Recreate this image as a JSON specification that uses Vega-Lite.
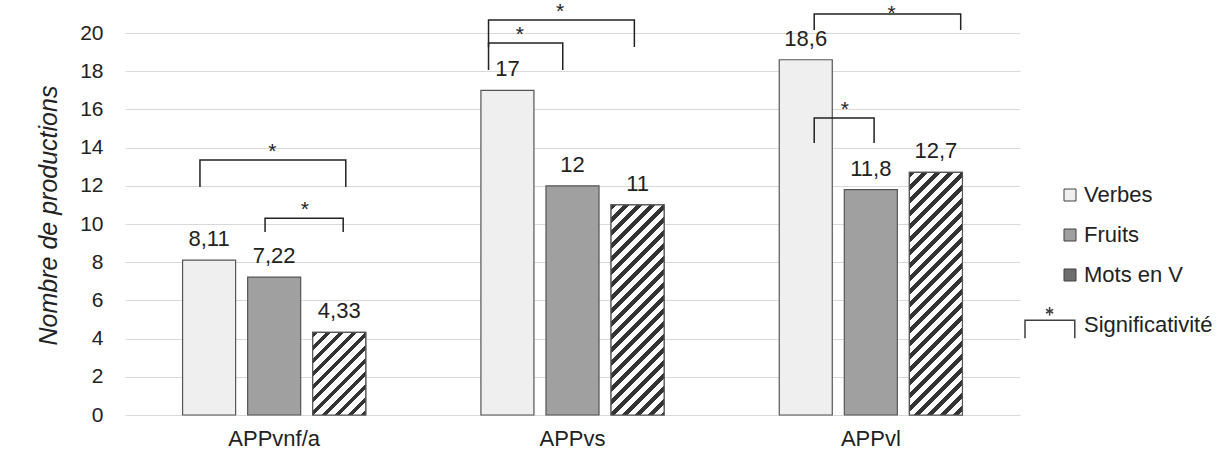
{
  "$schema": "https://vega.github.io/schema/vega-lite/v6.json",
  "width": 895,
  "height": 382,
  "autosize": {"type": "none"},
  "padding": {"left": 125, "top": 33, "right": 197, "bottom": 60},
  "background": "white",
  "config": {
    "font": "Liberation Sans",
    "view": {"stroke": null},
    "locale": {"number": {"decimal": ",", "thousands": " ", "grouping": [3], "currency": ["", " €"]}}
  },
  "datasets": {
    "barres": [
      {"groupe": "APPvnf/a", "serie": "Verbes", "valeur": 8.11},
      {"groupe": "APPvnf/a", "serie": "Fruits", "valeur": 7.22},
      {"groupe": "APPvnf/a", "serie": "Mots en V", "valeur": 4.33},
      {"groupe": "APPvs", "serie": "Verbes", "valeur": 17},
      {"groupe": "APPvs", "serie": "Fruits", "valeur": 12},
      {"groupe": "APPvs", "serie": "Mots en V", "valeur": 11},
      {"groupe": "APPvl", "serie": "Verbes", "valeur": 18.6},
      {"groupe": "APPvl", "serie": "Fruits", "valeur": 11.8},
      {"groupe": "APPvl", "serie": "Mots en V", "valeur": 12.7}
    ],
    "crochets": [
      {"crochet": "b1", "groupe": "APPvnf/a", "rang": -0.14, "niveau": 11.94, "ordre": 1},
      {"crochet": "b1", "groupe": "APPvnf/a", "rang": -0.14, "niveau": 13.35, "ordre": 2},
      {"crochet": "b1", "groupe": "APPvnf/a", "rang": 2.10, "niveau": 13.35, "ordre": 3},
      {"crochet": "b1", "groupe": "APPvnf/a", "rang": 2.10, "niveau": 11.94, "ordre": 4},
      {"crochet": "b2", "groupe": "APPvnf/a", "rang": 0.86, "niveau": 9.58, "ordre": 1},
      {"crochet": "b2", "groupe": "APPvnf/a", "rang": 0.86, "niveau": 10.3, "ordre": 2},
      {"crochet": "b2", "groupe": "APPvnf/a", "rang": 2.06, "niveau": 10.3, "ordre": 3},
      {"crochet": "b2", "groupe": "APPvnf/a", "rang": 2.06, "niveau": 9.58, "ordre": 4},
      {"crochet": "b3", "groupe": "APPvs", "rang": -0.29, "niveau": 19.27, "ordre": 1},
      {"crochet": "b3", "groupe": "APPvs", "rang": -0.29, "niveau": 20.68, "ordre": 2},
      {"crochet": "b3", "groupe": "APPvs", "rang": 1.95, "niveau": 20.68, "ordre": 3},
      {"crochet": "b3", "groupe": "APPvs", "rang": 1.95, "niveau": 19.27, "ordre": 4},
      {"crochet": "b4", "groupe": "APPvs", "rang": -0.29, "niveau": 18.06, "ordre": 1},
      {"crochet": "b4", "groupe": "APPvs", "rang": -0.29, "niveau": 19.48, "ordre": 2},
      {"crochet": "b4", "groupe": "APPvs", "rang": 0.85, "niveau": 19.48, "ordre": 3},
      {"crochet": "b4", "groupe": "APPvs", "rang": 0.85, "niveau": 18.06, "ordre": 4},
      {"crochet": "b5", "groupe": "APPvl", "rang": 0.13, "niveau": 20.16, "ordre": 1},
      {"crochet": "b5", "groupe": "APPvl", "rang": 0.13, "niveau": 21.0, "ordre": 2},
      {"crochet": "b5", "groupe": "APPvl", "rang": 2.38, "niveau": 21.0, "ordre": 3},
      {"crochet": "b5", "groupe": "APPvl", "rang": 2.38, "niveau": 20.16, "ordre": 4},
      {"crochet": "b6", "groupe": "APPvl", "rang": 0.13, "niveau": 14.24, "ordre": 1},
      {"crochet": "b6", "groupe": "APPvl", "rang": 0.13, "niveau": 15.55, "ordre": 2},
      {"crochet": "b6", "groupe": "APPvl", "rang": 1.05, "niveau": 15.55, "ordre": 3},
      {"crochet": "b6", "groupe": "APPvl", "rang": 1.05, "niveau": 14.24, "ordre": 4}
    ],
    "etoiles": [
      {"groupe": "APPvnf/a", "rang": 0.97, "niveau": 13.35},
      {"groupe": "APPvnf/a", "rang": 1.47, "niveau": 10.3},
      {"groupe": "APPvs", "rang": 0.81, "niveau": 20.68},
      {"groupe": "APPvs", "rang": 0.19, "niveau": 19.48},
      {"groupe": "APPvl", "rang": 1.32, "niveau": 20.6},
      {"groupe": "APPvl", "rang": 0.6, "niveau": 15.55}
    ]
  },
  "layer": [
    {
      "data": {"name": "barres"},
      "mark": {"type": "bar", "stroke": "#555555", "strokeWidth": 1.2},
      "encoding": {
        "x": {"field": "groupe", "type": "nominal", "scale": {"domain": ["APPvnf/a", "APPvs", "APPvl"], "paddingInner": 0.386, "paddingOuter": 0.193},
          "axis": {"title": null, "domain": false, "ticks": false, "grid": false, "labelFontSize": 22, "labelColor": "#222222", "labelPadding": 13, "labelAngle": 0}},
        "xOffset": {"field": "serie", "type": "nominal", "scale": {"domain": ["Verbes", "Fruits", "Mots en V"], "paddingInner": 0.185, "paddingOuter": 0}},
        "y": {"field": "valeur", "type": "quantitative", "scale": {"domain": [0, 20], "nice": false},
          "axis": {"title": "Nombre de productions", "values": [0, 2, 4, 6, 8, 10, 12, 14, 16, 18, 20], "tickCount": 11, "labelOverlap": false, "labelBound": false, "labelFlush": false, "domain": false, "ticks": false, "grid": true, "gridColor": "#d9d9d9", "gridWidth": 1, "labelFontSize": 21, "labelColor": "#222222", "labelPadding": 22, "titleFontSize": 25, "titleFontStyle": "italic", "titleFontWeight": "normal", "titleColor": "#222222", "titleX": -77, "titleY": 182, "titleAngle": -90, "titleAlign": "center", "titleBaseline": "middle"}},
        "color": {"field": "serie", "type": "nominal",
          "scale": {"domain": ["Verbes", "Fruits", "Mots en V", "Significativité"], "range": ["#efefef", "#a0a0a0", "#6e6e6e", "transparent"]},
          "legend": {"title": null, "orient": "none", "legendX": 934, "legendY": 151, "padding": 0, "symbolSize": 144, "symbolType": "square", "symbolStrokeWidth": 1, "symbolStrokeColor": "#404040", "labelFontSize": 22, "labelColor": "#222222", "labelOffset": 3, "rowPadding": 18,
            "encode": {"symbols": {"update": {"shape": {"signal": "datum.value === 'Significativité' ? 'M-7.5,2.2L-7.5,-0.8L0.8,-0.8L0.8,2.2M-3.4,-3L-3.4,-1.6M-4,-2.6L-2.8,-2M-4,-2L-2.8,-2.6' : 'square'"}, "strokeWidth": {"signal": "datum.value === 'Significativité' ? 1.5 : 1"}}}}}}
      }
    },
    {
      "data": {"name": "barres"},
      "transform": [{"filter": "datum.serie === 'Mots en V' && datum.groupe === 'APPvnf/a'"}],
      "mark": {"type": "bar", "stroke": "#555555", "strokeWidth": 1.2,
        "fill": {"gradient": "linear", "x1": 0, "y1": 0, "x2": 0.7459, "y2": 1.163, "stops": [
          {"offset": 0, "color": "#333"}, {"offset": 0.0405, "color": "#333"}, {"offset": 0.0405, "color": "#fff"},
          {"offset": 0.0958, "color": "#fff"}, {"offset": 0.0958, "color": "#333"}, {"offset": 0.1363, "color": "#333"}, {"offset": 0.1363, "color": "#fff"},
          {"offset": 0.1915, "color": "#fff"}, {"offset": 0.1915, "color": "#333"}, {"offset": 0.2320, "color": "#333"}, {"offset": 0.2320, "color": "#fff"},
          {"offset": 0.2873, "color": "#fff"}, {"offset": 0.2873, "color": "#333"}, {"offset": 0.3278, "color": "#333"}, {"offset": 0.3278, "color": "#fff"},
          {"offset": 0.3831, "color": "#fff"}, {"offset": 0.3831, "color": "#333"}, {"offset": 0.4236, "color": "#333"}, {"offset": 0.4236, "color": "#fff"},
          {"offset": 0.4789, "color": "#fff"}, {"offset": 0.4789, "color": "#333"}, {"offset": 0.5194, "color": "#333"}, {"offset": 0.5194, "color": "#fff"},
          {"offset": 0.5746, "color": "#fff"}, {"offset": 0.5746, "color": "#333"}, {"offset": 0.6151, "color": "#333"}, {"offset": 0.6151, "color": "#fff"},
          {"offset": 0.6704, "color": "#fff"}, {"offset": 0.6704, "color": "#333"}, {"offset": 0.7109, "color": "#333"}, {"offset": 0.7109, "color": "#fff"},
          {"offset": 0.7662, "color": "#fff"}, {"offset": 0.7662, "color": "#333"}, {"offset": 0.8067, "color": "#333"}, {"offset": 0.8067, "color": "#fff"},
          {"offset": 0.8619, "color": "#fff"}, {"offset": 0.8619, "color": "#333"}, {"offset": 0.9024, "color": "#333"}, {"offset": 0.9024, "color": "#fff"},
          {"offset": 0.9577, "color": "#fff"}, {"offset": 0.9577, "color": "#333"}, {"offset": 0.9982, "color": "#333"}, {"offset": 0.9982, "color": "#fff"}
        ]}},
      "encoding": {
        "x": {"field": "groupe", "type": "nominal"},
        "xOffset": {"field": "serie", "type": "nominal", "scale": {"domain": ["Verbes", "Fruits", "Mots en V"], "paddingInner": 0.185, "paddingOuter": 0}},
        "y": {"field": "valeur", "type": "quantitative", "scale": {"domain": [0, 20], "nice": false}}
      }
    },
    {
      "data": {"name": "barres"},
      "transform": [{"filter": "datum.serie === 'Mots en V' && datum.groupe === 'APPvs'"}],
      "mark": {"type": "bar", "stroke": "#555555", "strokeWidth": 1.2,
        "fill": {"gradient": "linear", "x1": 0, "y1": 0, "x2": 0.2972, "y2": 1.1774, "stops": [
          {"offset": 0, "color": "#333"}, {"offset": 0.0209, "color": "#333"}, {"offset": 0.0209, "color": "#fff"},
          {"offset": 0.0494, "color": "#fff"}, {"offset": 0.0494, "color": "#333"}, {"offset": 0.0703, "color": "#333"}, {"offset": 0.0703, "color": "#fff"},
          {"offset": 0.0988, "color": "#fff"}, {"offset": 0.0988, "color": "#333"}, {"offset": 0.1197, "color": "#333"}, {"offset": 0.1197, "color": "#fff"},
          {"offset": 0.1482, "color": "#fff"}, {"offset": 0.1482, "color": "#333"}, {"offset": 0.1691, "color": "#333"}, {"offset": 0.1691, "color": "#fff"},
          {"offset": 0.1976, "color": "#fff"}, {"offset": 0.1976, "color": "#333"}, {"offset": 0.2185, "color": "#333"}, {"offset": 0.2185, "color": "#fff"},
          {"offset": 0.2470, "color": "#fff"}, {"offset": 0.2470, "color": "#333"}, {"offset": 0.2679, "color": "#333"}, {"offset": 0.2679, "color": "#fff"},
          {"offset": 0.2964, "color": "#fff"}, {"offset": 0.2964, "color": "#333"}, {"offset": 0.3173, "color": "#333"}, {"offset": 0.3173, "color": "#fff"},
          {"offset": 0.3458, "color": "#fff"}, {"offset": 0.3458, "color": "#333"}, {"offset": 0.3667, "color": "#333"}, {"offset": 0.3667, "color": "#fff"},
          {"offset": 0.3952, "color": "#fff"}, {"offset": 0.3952, "color": "#333"}, {"offset": 0.4161, "color": "#333"}, {"offset": 0.4161, "color": "#fff"},
          {"offset": 0.4446, "color": "#fff"}, {"offset": 0.4446, "color": "#333"}, {"offset": 0.4655, "color": "#333"}, {"offset": 0.4655, "color": "#fff"},
          {"offset": 0.4940, "color": "#fff"}, {"offset": 0.4940, "color": "#333"}, {"offset": 0.5149, "color": "#333"}, {"offset": 0.5149, "color": "#fff"},
          {"offset": 0.5434, "color": "#fff"}, {"offset": 0.5434, "color": "#333"}, {"offset": 0.5643, "color": "#333"}, {"offset": 0.5643, "color": "#fff"},
          {"offset": 0.5928, "color": "#fff"}, {"offset": 0.5928, "color": "#333"}, {"offset": 0.6137, "color": "#333"}, {"offset": 0.6137, "color": "#fff"},
          {"offset": 0.6422, "color": "#fff"}, {"offset": 0.6422, "color": "#333"}, {"offset": 0.6631, "color": "#333"}, {"offset": 0.6631, "color": "#fff"},
          {"offset": 0.6916, "color": "#fff"}, {"offset": 0.6916, "color": "#333"}, {"offset": 0.7125, "color": "#333"}, {"offset": 0.7125, "color": "#fff"},
          {"offset": 0.7410, "color": "#fff"}, {"offset": 0.7410, "color": "#333"}, {"offset": 0.7619, "color": "#333"}, {"offset": 0.7619, "color": "#fff"},
          {"offset": 0.7904, "color": "#fff"}, {"offset": 0.7904, "color": "#333"}, {"offset": 0.8113, "color": "#333"}, {"offset": 0.8113, "color": "#fff"},
          {"offset": 0.8399, "color": "#fff"}, {"offset": 0.8399, "color": "#333"}, {"offset": 0.8608, "color": "#333"}, {"offset": 0.8608, "color": "#fff"},
          {"offset": 0.8893, "color": "#fff"}, {"offset": 0.8893, "color": "#333"}, {"offset": 0.9102, "color": "#333"}, {"offset": 0.9102, "color": "#fff"},
          {"offset": 0.9387, "color": "#fff"}, {"offset": 0.9387, "color": "#333"}, {"offset": 0.9596, "color": "#333"}, {"offset": 0.9596, "color": "#fff"},
          {"offset": 0.9881, "color": "#fff"}, {"offset": 0.9881, "color": "#333"}, {"offset": 1, "color": "#333"}
        ]}},
      "encoding": {
        "x": {"field": "groupe", "type": "nominal"},
        "xOffset": {"field": "serie", "type": "nominal", "scale": {"domain": ["Verbes", "Fruits", "Mots en V"], "paddingInner": 0.185, "paddingOuter": 0}},
        "y": {"field": "valeur", "type": "quantitative", "scale": {"domain": [0, 20], "nice": false}}
      }
    },
    {
      "data": {"name": "barres"},
      "transform": [{"filter": "datum.serie === 'Mots en V' && datum.groupe === 'APPvl'"}],
      "mark": {"type": "bar", "stroke": "#555555", "strokeWidth": 1.2,
        "fill": {"gradient": "linear", "x1": 0, "y1": 0, "x2": 0.2543, "y2": 1.1631, "stops": [
          {"offset": 0, "color": "#333"}, {"offset": 0.0186, "color": "#333"}, {"offset": 0.0186, "color": "#fff"},
          {"offset": 0.0440, "color": "#fff"}, {"offset": 0.0440, "color": "#333"}, {"offset": 0.0626, "color": "#333"}, {"offset": 0.0626, "color": "#fff"},
          {"offset": 0.0880, "color": "#fff"}, {"offset": 0.0880, "color": "#333"}, {"offset": 0.1066, "color": "#333"}, {"offset": 0.1066, "color": "#fff"},
          {"offset": 0.1319, "color": "#fff"}, {"offset": 0.1319, "color": "#333"}, {"offset": 0.1505, "color": "#333"}, {"offset": 0.1505, "color": "#fff"},
          {"offset": 0.1759, "color": "#fff"}, {"offset": 0.1759, "color": "#333"}, {"offset": 0.1945, "color": "#333"}, {"offset": 0.1945, "color": "#fff"},
          {"offset": 0.2199, "color": "#fff"}, {"offset": 0.2199, "color": "#333"}, {"offset": 0.2385, "color": "#333"}, {"offset": 0.2385, "color": "#fff"},
          {"offset": 0.2639, "color": "#fff"}, {"offset": 0.2639, "color": "#333"}, {"offset": 0.2825, "color": "#333"}, {"offset": 0.2825, "color": "#fff"},
          {"offset": 0.3078, "color": "#fff"}, {"offset": 0.3078, "color": "#333"}, {"offset": 0.3264, "color": "#333"}, {"offset": 0.3264, "color": "#fff"},
          {"offset": 0.3518, "color": "#fff"}, {"offset": 0.3518, "color": "#333"}, {"offset": 0.3704, "color": "#333"}, {"offset": 0.3704, "color": "#fff"},
          {"offset": 0.3958, "color": "#fff"}, {"offset": 0.3958, "color": "#333"}, {"offset": 0.4144, "color": "#333"}, {"offset": 0.4144, "color": "#fff"},
          {"offset": 0.4398, "color": "#fff"}, {"offset": 0.4398, "color": "#333"}, {"offset": 0.4584, "color": "#333"}, {"offset": 0.4584, "color": "#fff"},
          {"offset": 0.4837, "color": "#fff"}, {"offset": 0.4837, "color": "#333"}, {"offset": 0.5023, "color": "#333"}, {"offset": 0.5023, "color": "#fff"},
          {"offset": 0.5277, "color": "#fff"}, {"offset": 0.5277, "color": "#333"}, {"offset": 0.5463, "color": "#333"}, {"offset": 0.5463, "color": "#fff"},
          {"offset": 0.5717, "color": "#fff"}, {"offset": 0.5717, "color": "#333"}, {"offset": 0.5903, "color": "#333"}, {"offset": 0.5903, "color": "#fff"},
          {"offset": 0.6157, "color": "#fff"}, {"offset": 0.6157, "color": "#333"}, {"offset": 0.6343, "color": "#333"}, {"offset": 0.6343, "color": "#fff"},
          {"offset": 0.6597, "color": "#fff"}, {"offset": 0.6597, "color": "#333"}, {"offset": 0.6783, "color": "#333"}, {"offset": 0.6783, "color": "#fff"},
          {"offset": 0.7036, "color": "#fff"}, {"offset": 0.7036, "color": "#333"}, {"offset": 0.7222, "color": "#333"}, {"offset": 0.7222, "color": "#fff"},
          {"offset": 0.7476, "color": "#fff"}, {"offset": 0.7476, "color": "#333"}, {"offset": 0.7662, "color": "#333"}, {"offset": 0.7662, "color": "#fff"},
          {"offset": 0.7916, "color": "#fff"}, {"offset": 0.7916, "color": "#333"}, {"offset": 0.8102, "color": "#333"}, {"offset": 0.8102, "color": "#fff"},
          {"offset": 0.8356, "color": "#fff"}, {"offset": 0.8356, "color": "#333"}, {"offset": 0.8542, "color": "#333"}, {"offset": 0.8542, "color": "#fff"},
          {"offset": 0.8795, "color": "#fff"}, {"offset": 0.8795, "color": "#333"}, {"offset": 0.8981, "color": "#333"}, {"offset": 0.8981, "color": "#fff"},
          {"offset": 0.9235, "color": "#fff"}, {"offset": 0.9235, "color": "#333"}, {"offset": 0.9421, "color": "#333"}, {"offset": 0.9421, "color": "#fff"},
          {"offset": 0.9675, "color": "#fff"}, {"offset": 0.9675, "color": "#333"}, {"offset": 0.9861, "color": "#333"}, {"offset": 0.9861, "color": "#fff"}
        ]}},
      "encoding": {
        "x": {"field": "groupe", "type": "nominal"},
        "xOffset": {"field": "serie", "type": "nominal", "scale": {"domain": ["Verbes", "Fruits", "Mots en V"], "paddingInner": 0.185, "paddingOuter": 0}},
        "y": {"field": "valeur", "type": "quantitative", "scale": {"domain": [0, 20], "nice": false}}
      }
    },
    {
      "data": {"name": "barres"},
      "mark": {"type": "text", "fontSize": 22, "color": "#222222", "baseline": "alphabetic", "align": "center", "dy": -14},
      "encoding": {
        "x": {"field": "groupe", "type": "nominal"},
        "xOffset": {"field": "serie", "type": "nominal", "scale": {"type": "point", "domain": ["Verbes", "Fruits", "Mots en V"], "padding": 0.4075}},
        "y": {"field": "valeur", "type": "quantitative", "scale": {"domain": [0, 20], "nice": false}},
        "text": {"field": "valeur", "type": "quantitative", "format": "~g"}
      }
    },
    {
      "data": {"name": "crochets"},
      "mark": {"type": "line", "color": "#222222", "strokeWidth": 1.5, "interpolate": "linear"},
      "encoding": {
        "x": {"field": "groupe", "type": "nominal"},
        "xOffset": {"field": "rang", "type": "quantitative", "scale": {"domain": [-0.407, 2.407], "range": [0, 183.2], "zero": false, "nice": false}},
        "y": {"field": "niveau", "type": "quantitative", "scale": {"domain": [0, 20], "nice": false}},
        "detail": {"field": "crochet", "type": "nominal"},
        "order": {"field": "ordre", "type": "quantitative"}
      }
    },
    {
      "data": {"name": "etoiles"},
      "mark": {"type": "text", "text": "*", "fontSize": 21, "color": "#222222", "baseline": "alphabetic", "dy": -2},
      "encoding": {
        "x": {"field": "groupe", "type": "nominal"},
        "xOffset": {"field": "rang", "type": "quantitative", "scale": {"domain": [-0.407, 2.407], "range": [0, 183.2], "zero": false, "nice": false}},
        "y": {"field": "niveau", "type": "quantitative", "scale": {"domain": [0, 20], "nice": false}}
      }
    }
  ],
  "resolve": {"scale": {"xOffset": "independent"}}
}
